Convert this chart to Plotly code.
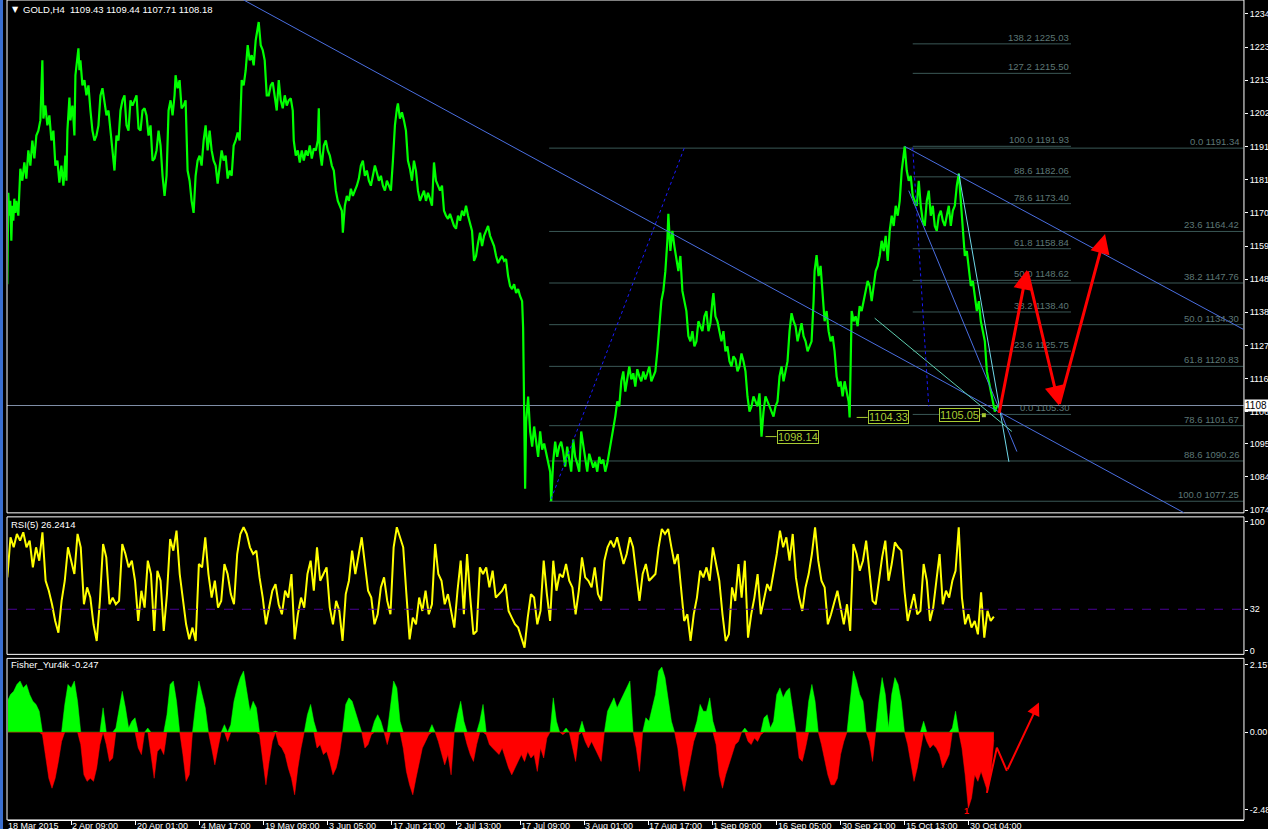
import numpy as np
import plotly.graph_objects as go

W, H = 1268, 829          # reference pixel grid
FIG_W, FIG_H = 1275, 834  # rendered figure size (page is downscaled to 1268x829)
FONT = "Liberation Sans"

# ---------------- data ----------------
price_bar = [0,1,2,3,4,5,6,7,8,9,11,12,13,15,17,19,21,23,25,27,29,31,33,35,36,38,40,42,44,46,48,50,52,54,56,58,59,60,62,63,65,66,67,68,69,71,72,73,75,77,79,81,83,85,87,89,91,93,95,97,99,101,103,105,107,109,111,113,115,117,119,121,123,125,127,129,131,133,135,137,139,141,143,145,147,149,151,153,155,157,159,161,163,165,167,168,170,172,174,176,178,180,182,184,186,188,190,192,194,196,198,200,202,204,206,208,210,212,214,216,218,220,222,224,226,228,230,232,234,236,238,240,242,244,246,248,250,251,253,255,257,259,261,263,265,267,269,271,273,275,277,279,281,283,285,286,288,290,292,294,296,298,300,302,304,306,308,310,311,312,314,316,318,320,322,324,326,328,330,332,334,335,337,339,341,343,345,347,349,351,353,355,357,359,361,363,365,367,369,371,373,375,377,379,381,383,385,387,389,390,392,394,396,398,400,402,404,406,408,410,412,414,416,418,420,422,424,426,428,430,432,434,436,438,440,442,444,446,448,450,452,454,456,458,460,462,464,466,468,470,472,474,476,478,480,482,484,486,488,490,492,494,496,498,500,502,504,506,508,510,512,514,515,516,517,518,520,522,524,526,528,530,532,534,536,538,540,542,543,545,547,549,551,553,555,557,559,561,563,565,567,569,571,573,575,577,579,581,583,585,587,589,591,593,595,597,599,601,603,605,607,609,611,613,615,617,619,621,623,625,627,629,631,633,635,637,639,641,643,645,647,649,651,653,655,657,659,660,662,664,666,668,670,672,674,676,678,680,682,684,686,688,690,692,694,696,698,700,702,704,705,707,709,711,713,715,717,719,721,723,725,727,729,731,733,735,737,739,741,743,745,747,749,751,753,755,757,759,761,763,765,767,769,771,773,775,777,779,781,783,785,787,789,791,793,795,797,799,801,803,805,806,808,810,812,814,816,818,820,822,824,826,828,830,832,834,836,838,840,841,842,843,845,847,849,851,853,855,857,859,861,863,865,867,869,871,873,875,877,879,881,883,885,887,889,891,893,895,896,898,900,902,904,906,908,910,912,914,916,918,920,922,924,926,928,930,932,934,936,938,940,942,944,946,948,950,952,954,956,958,960,962,964,966,968,970,972,974,976,978,980,982,984,986,988,990]
price_close = [1147.4,1176.9,1169.5,1174.3,1161.4,1172.7,1167.9,1175.0,1170.4,1174.3,1169.5,1175.9,1184.7,1180.8,1186.7,1181.5,1190.6,1185.7,1193.8,1188.0,1195.4,1197.0,1200.3,1219.7,1200.9,1205.1,1198.7,1201.9,1193.8,1197.0,1185.7,1187.3,1180.2,1185.7,1179.2,1188.9,1180.8,1197.0,1207.7,1200.3,1205.1,1200.9,1195.4,1214.9,1218.1,1223.6,1216.5,1219.7,1211.6,1213.3,1208.4,1211.6,1203.5,1197.0,1193.8,1195.4,1198.7,1208.4,1210.7,1206.8,1201.9,1203.5,1197.0,1192.2,1184.1,1195.4,1193.8,1203.5,1206.8,1208.4,1198.7,1197.0,1206.8,1205.1,1206.8,1208.4,1197.7,1197.0,1203.5,1204.2,1201.9,1195.4,1198.7,1187.3,1188.0,1190.6,1197.0,1192.2,1182.4,1175.9,1182.4,1203.5,1206.8,1201.9,1208.4,1214.9,1210.7,1213.3,1204.2,1205.1,1206.8,1184.1,1180.8,1174.3,1170.4,1182.4,1187.3,1188.9,1185.7,1193.8,1198.7,1190.6,1197.0,1190.6,1187.3,1185.7,1179.9,1185.7,1190.6,1187.3,1188.9,1181.5,1184.1,1182.4,1192.2,1193.8,1196.4,1193.8,1213.3,1211.6,1216.5,1224.6,1219.7,1221.4,1218.1,1226.2,1229.5,1232.1,1224.6,1223.0,1219.7,1208.4,1208.4,1211.6,1212.6,1208.4,1203.5,1213.3,1206.8,1204.2,1208.4,1205.1,1206.8,1207.4,1203.5,1193.8,1188.9,1190.6,1186.7,1190.6,1187.3,1190.6,1188.9,1192.2,1188.0,1191.2,1190.6,1193.8,1204.2,1190.6,1185.7,1192.2,1193.8,1190.6,1188.9,1185.7,1184.1,1177.6,1174.3,1172.7,1171.1,1164.0,1172.7,1175.9,1174.3,1178.2,1175.9,1177.6,1179.2,1181.5,1185.7,1187.3,1182.4,1184.1,1180.8,1179.2,1182.4,1185.7,1183.4,1180.8,1182.4,1179.2,1177.6,1180.8,1179.2,1177.6,1187.3,1198.7,1204.2,1205.8,1200.9,1202.9,1200.3,1197.0,1187.3,1184.7,1180.8,1187.3,1184.1,1177.6,1174.3,1175.9,1177.6,1174.3,1176.9,1175.0,1172.7,1186.7,1180.8,1179.2,1177.6,1179.2,1171.1,1169.5,1168.5,1170.1,1167.9,1166.2,1165.3,1169.5,1167.9,1171.1,1169.5,1172.7,1169.5,1167.2,1164.6,1154.9,1156.5,1160.7,1164.0,1159.7,1163.0,1164.6,1166.2,1163.0,1161.4,1159.7,1156.5,1154.2,1155.5,1156.5,1154.9,1155.5,1150.0,1146.8,1145.8,1147.4,1144.5,1145.8,1143.5,1141.9,1133.2,1109.5,1081.3,1103.0,1111.1,1099.8,1094.9,1101.4,1096.5,1091.6,1099.8,1093.9,1095.9,1092.6,1090.0,1086.8,1077.3,1090.0,1096.5,1091.6,1094.9,1096.5,1093.3,1088.4,1094.9,1090.0,1086.8,1097.2,1091.6,1089.4,1086.8,1099.8,1094.9,1090.0,1086.8,1092.6,1090.7,1088.1,1090.0,1086.8,1091.6,1089.4,1090.7,1086.8,1089.4,1093.3,1096.5,1099.8,1104.6,1109.5,1107.9,1116.0,1119.2,1112.7,1117.6,1120.8,1116.6,1118.6,1114.3,1119.9,1117.6,1116.0,1119.2,1116.6,1118.6,1120.8,1116.0,1117.6,1119.2,1125.7,1135.4,1141.9,1145.2,1151.6,1161.4,1170.1,1158.1,1164.6,1159.7,1154.9,1151.6,1156.5,1145.2,1141.9,1138.7,1130.6,1128.9,1132.2,1127.3,1128.9,1135.4,1133.8,1132.2,1137.0,1138.7,1132.2,1134.8,1141.9,1144.5,1137.0,1135.4,1132.2,1128.9,1132.2,1125.7,1127.3,1122.5,1120.8,1124.1,1123.1,1119.2,1120.8,1125.0,1122.5,1119.2,1111.1,1106.2,1107.9,1111.1,1109.5,1107.9,1112.1,1098.1,1106.2,1111.1,1109.5,1107.9,1106.2,1104.6,1107.9,1109.5,1117.6,1120.8,1116.0,1119.2,1122.5,1132.2,1138.0,1135.4,1133.8,1128.9,1132.2,1134.8,1130.6,1128.9,1125.7,1127.3,1128.9,1141.9,1151.6,1156.8,1150.0,1153.3,1145.2,1135.4,1138.7,1132.2,1128.9,1130.6,1125.7,1117.6,1114.3,1116.0,1111.1,1116.0,1112.7,1109.5,1104.3,1127.3,1138.7,1135.4,1137.0,1133.8,1140.3,1138.7,1141.9,1145.2,1148.4,1146.8,1141.9,1146.8,1151.6,1153.3,1156.5,1161.4,1158.1,1163.0,1154.9,1164.6,1169.5,1166.2,1172.7,1169.5,1174.3,1184.1,1190.6,1191.9,1184.1,1180.8,1182.4,1175.9,1174.3,1172.7,1180.8,1172.7,1167.9,1166.2,1174.3,1177.6,1169.5,1172.7,1166.2,1164.6,1169.5,1171.1,1167.9,1166.2,1169.5,1172.7,1166.2,1171.1,1172.7,1179.2,1183.1,1174.3,1164.6,1156.5,1158.1,1151.6,1146.8,1148.4,1143.5,1138.7,1141.9,1135.4,1132.2,1128.9,1119.2,1116.0,1112.7,1110.1,1106.2,1107.9,1108.2]

rsi_values = [56.8,88.0,80.2,90.6,85.4,91.9,80.2,85.4,64.6,80.2,69.8,91.9,54.2,46.4,35.9,22.9,13.8,38.5,54.2,80.2,
69.8,59.4,90.6,80.2,35.9,49.0,41.1,20.3,7.3,38.5,82.8,72.4,35.9,41.1,35.9,38.5,82.8,75.0,64.6,69.8,
54.2,22.9,46.4,33.3,69.8,59.4,15.1,62.0,54.2,15.1,43.8,86.7,77.6,93.2,59.4,38.5,20.3,8.6,17.7,7.3,
67.2,64.6,88.0,59.4,41.1,54.2,33.3,38.5,67.2,59.4,43.8,35.9,75.0,90.6,95.8,90.6,80.2,75.0,77.6,56.8,
41.1,20.3,33.3,46.4,51.6,35.9,28.1,46.4,41.1,59.4,8.6,28.1,41.1,33.3,59.4,69.8,46.4,80.2,54.2,59.4,
64.6,33.3,20.3,38.5,30.7,7.3,43.8,54.2,77.6,59.4,72.4,88.0,67.2,46.4,41.1,20.3,28.1,49.0,56.8,38.5,
28.1,80.2,95.8,88.0,80.2,43.8,8.6,25.5,20.3,41.1,30.7,46.4,28.1,35.9,82.8,59.4,54.2,35.9,43.8,30.7,
17.7,46.4,69.8,28.1,75.0,41.1,12.5,15.1,64.6,59.4,64.6,49.0,62.0,41.1,43.8,46.4,51.6,30.7,25.5,20.3,
17.7,9.9,2.1,25.5,43.8,41.1,20.3,30.7,69.8,43.8,22.9,69.8,46.4,59.4,56.8,67.2,54.2,49.0,28.1,46.4,
72.4,56.8,54.2,49.0,64.6,43.8,38.5,69.8,80.2,85.4,80.2,88.0,77.6,67.2,75.0,88.0,80.2,56.8,38.5,59.4,
67.2,54.2,56.8,59.4,80.2,94.5,90.6,94.5,80.2,67.2,75.0,46.4,22.9,28.1,7.3,28.1,41.1,62.0,56.8,64.6,
54.2,80.2,67.2,54.2,28.1,7.3,12.5,49.0,38.5,67.2,41.1,69.8,9.9,28.1,41.1,59.4,28.1,41.1,51.6,46.4,
59.4,75.0,93.2,80.2,88.0,69.8,90.6,56.8,41.1,30.7,49.0,59.4,75.0,95.8,69.8,54.2,49.0,20.3,28.1,38.5,
46.4,33.3,20.3,35.9,15.1,82.8,75.0,62.0,69.8,85.4,59.4,38.5,35.9,54.2,72.4,85.4,54.2,67.2,84.1,80.2,
77.6,46.4,22.9,33.3,43.8,28.1,30.7,67.2,54.2,22.9,33.3,54.2,75.0,35.9,46.4,41.1,54.2,62.0,95.8,41.1,
20.3,28.1,17.7,22.9,12.5,45.1,9.9,30.7,22.9,26.2]

fisher_values = [0.99,1.21,1.31,1.53,1.64,1.42,1.53,1.21,0.99,0.89,0.67,-0.08,-0.72,-1.48,-1.80,-1.48,-0.94,-0.30,0.89,1.53,
1.42,1.64,0.99,-0.40,-1.37,-1.58,-1.48,-1.58,-1.15,-0.40,0.78,-0.40,-0.94,-0.83,0.13,0.78,1.31,0.78,0.13,0.35,
0.46,-0.51,-0.72,0.0,0.13,-0.72,-1.48,-0.62,-0.51,-0.72,0.56,1.53,1.64,0.99,0.0,-0.72,-1.58,-1.37,0.0,0.89,
1.64,1.21,0.78,0.0,-0.51,-1.05,-0.51,0.0,0.24,-0.30,0.24,0.99,1.42,1.75,1.96,1.31,0.67,0.99,0.78,-0.08,
-0.83,-1.69,-0.94,-0.30,0.03,-0.40,-0.51,-0.72,-1.15,-1.48,-2.01,-1.15,-0.51,0.0,0.56,0.89,0.35,-0.51,-0.40,-0.72,
-0.62,-0.94,-1.37,-1.15,-0.72,0.0,0.89,1.10,0.99,0.67,0.35,0.0,-0.51,-0.40,-0.08,0.35,0.56,0.35,0.0,-0.40,
0.78,1.64,1.42,0.35,-0.51,-1.26,-1.69,-2.01,-1.48,-0.94,-0.51,-0.30,-0.08,0.24,0.0,-0.30,-0.72,-1.05,-0.72,-1.37,
0.0,0.56,0.99,0.35,-0.40,-0.72,-0.94,-0.40,0.35,0.89,-0.08,-0.40,-0.51,-0.62,-0.72,-0.51,-0.83,-1.15,-1.37,-1.15,
-0.94,-0.72,-0.94,-0.62,-0.83,-0.72,-1.26,-0.51,-0.83,-0.19,0.0,1.10,0.35,0.0,-0.08,0.13,0.0,-0.51,-0.94,-0.08,
0.35,-0.30,-0.51,-0.30,-0.51,-0.72,-0.94,0.0,0.67,0.89,1.10,0.78,0.99,1.21,1.42,1.64,0.0,-0.51,-1.26,0.0,
0.46,0.35,0.78,1.21,1.96,2.09,1.75,0.99,0.35,0.0,-0.51,-1.37,-1.90,-1.37,-0.72,-0.30,0.35,0.89,0.67,0.67,
1.10,0.35,-0.40,-1.37,-1.80,-1.37,-1.05,-0.72,-0.40,-0.30,0.0,0.13,-0.30,-0.40,-0.19,-0.30,-0.08,0.46,0.56,0.13,
0.35,1.21,1.42,1.10,1.31,1.42,0.78,0.0,-0.83,-0.94,-0.51,0.99,1.53,0.99,0.0,-0.40,-0.94,-1.37,-1.69,-1.69,
-1.48,-0.72,-0.30,0.0,0.99,1.96,1.64,1.21,0.99,0.0,-0.30,-0.94,0.0,0.99,1.75,1.21,0.13,1.21,1.75,1.53,
0.99,0.0,-0.40,-1.05,-1.58,-1.15,-0.51,0.35,-0.30,-0.51,-0.40,-0.51,-0.72,-1.15,-0.94,-0.72,0.13,0.67,0.0,-0.51,
-1.37,-2.44,-2.12,-1.37,-1.58,-1.26,-1.58,-1.90,-1.37,-0.25]

date_labels = ["18 Mar 2015", "2 Apr 09:00", "20 Apr 01:00", "4 May 17:00", "19 May 09:00",
               "3 Jun 05:00", "17 Jun 21:00", "2 Jul 13:00", "17 Jul 09:00", "3 Aug 01:00",
               "17 Aug 17:00", "1 Sep 09:00", "16 Sep 05:00", "30 Sep 21:00", "15 Oct 13:00",
               "30 Oct 04:00"]
bars_per_label = 64

price_tick_vals = [1234.7, 1224.0, 1213.3, 1202.6, 1191.9, 1181.2, 1170.4, 1159.7, 1149.0,
                   1138.3, 1127.6, 1116.9, 1106.2, 1095.9, 1085.2, 1074.4]
price_tick_text = ["1234", "1223", "1213", "1202", "1191", "1181", "1170", "1159", "1148",
                   "1138", "1127", "1116", "1106", "1095", "1084", "1074"]

# Fibonacci set A (1191.93 -> 1105.30)
fibA_pct = ["138.2", "127.2", "100.0", "88.6", "78.6", "61.8", "50.0", "38.2", "23.6", "0.0"]
fibA_price = [1225.03, 1215.50, 1191.93, 1182.06, 1173.40, 1158.84, 1148.62, 1138.40, 1125.75, 1105.30]
fibA_span = [904, 1062]
# Fibonacci set B (1191.34 -> 1077.25)
fibB_pct = ["0.0", "23.6", "38.2", "50.0", "61.8", "78.6", "88.6", "100.0"]
fibB_price = [1191.34, 1164.42, 1147.76, 1134.30, 1120.83, 1101.67, 1090.26, 1077.25]
fibB_span = [541, 1234]

last_price = 1108.18
header = "GOLD,H4  1109.43 1109.44 1107.71 1108.18"

# trend lines: (bar0, price0, bar1, price1, color, dash)
trend_lines = [
    (236, 1239.2, 1175, 1073.5, "#4a6ee0", "solid"),
    (896, 1191.9, 1234, 1132.8, "#4a6ee0", "solid"),
    (900, 1177.6, 1008, 1093.3, "#4a6ee0", "solid"),
    (950, 1183.1, 1000, 1090.0, "#6fd8e8", "solid"),
    (866, 1136.4, 1003, 1099.8, "#5fcfb0", "solid"),
    (543, 1078.0, 676, 1191.5, "#1a1aff", "dot"),
    (904, 1191.5, 920, 1107.9, "#1a1aff", "dot"),
]

# price label objects (bar of box left edge, price)
price_marks = [(768, 1098.14), (859, 1104.33), (930, 1105.05)]

# red forecast arrows on price panel
arrow_bar = [990, 1018, 1050, 1096]
arrow_price = [1105.3, 1152.0, 1108.2, 1163.6]
# red forecast arrow on Fisher panel
f_arrow_bar = [978, 988, 998, 1030]
f_arrow_val = [-1.95, -0.50, -1.24, 0.95]

# ---------------- geometry helpers ----------------
def px(p):
    return p / W

def py(q):
    return 1 - q / H

MAIN = (0, 511)
RSI = (515, 652)
FISH = (656, 817)
XL, XR = 8, 1242
XRANGE = [0.7, 1234.7]

def bar_to_paper(b):
    return px(XL) + (b - XRANGE[0]) / (XRANGE[1] - XRANGE[0]) * (px(XR) - px(XL))

fig = go.Figure()

fig.add_trace(go.Scatter(x=price_bar, y=price_close, mode="lines",
                         line=dict(color="#00ff00", width=2.2), xaxis="x", yaxis="y",
                         hoverinfo="skip", showlegend=False))

rsi_x = np.linspace(0, 985, len(rsi_values))
fig.add_trace(go.Scatter(x=rsi_x, y=rsi_values, mode="lines",
                         line=dict(color="#ffff00", width=2), xaxis="x", yaxis="y2",
                         hoverinfo="skip", showlegend=False))

fish_x = np.linspace(0, 985, len(fisher_values))
fv = np.array(fisher_values)
fig.add_trace(go.Scatter(x=fish_x, y=np.maximum(fv, 0), mode="lines", fill="tozeroy",
                         fillcolor="#00ff00", line=dict(color="#00ff00", width=0.5),
                         xaxis="x", yaxis="y3", hoverinfo="skip", showlegend=False))
fig.add_trace(go.Scatter(x=fish_x, y=np.minimum(fv, 0), mode="lines", fill="tozeroy",
                         fillcolor="#ff0000", line=dict(color="#ff0000", width=0.5),
                         xaxis="x", yaxis="y3", hoverinfo="skip", showlegend=False))

fig.add_trace(go.Scatter(x=f_arrow_bar[:3], y=f_arrow_val[:3], mode="lines",
                         line=dict(color="#ff0000", width=2), xaxis="x", yaxis="y3",
                         hoverinfo="skip", showlegend=False))

shapes = []
ann = []

# left blue window strip
shapes.append(dict(type="rect", xref="paper", yref="paper", x0=0, x1=px(3), y0=0, y1=1,
                   fillcolor="#3a6fd0", line=dict(width=0), layer="above"))
# panel frames
for top, bot in (MAIN, RSI, FISH):
    shapes.append(dict(type="rect", xref="paper", yref="paper", x0=px(7), x1=px(XR),
                       y0=py(bot), y1=py(top), line=dict(color="#ffffff", width=1),
                       fillcolor="rgba(0,0,0,0)", layer="above"))

# fibonacci
FIB_LINE = "#3a5856"
FIB_TXT = "#5d7776"
for pct, pr in zip(fibB_pct, fibB_price):
    shapes.append(dict(type="line", xref="x", yref="y", x0=fibB_span[0], x1=fibB_span[1],
                       y0=pr, y1=pr, line=dict(color=FIB_LINE, width=1), layer="below"))
    ann.append(dict(xref="x", yref="y", x=fibB_span[1] - 2, y=pr, text=f"{pct} {pr:.2f}",
                    xanchor="right", yanchor="bottom", showarrow=False, yshift=-1,
                    font=dict(family=FONT, size=9.5, color=FIB_TXT)))
for pct, pr in zip(fibA_pct, fibA_price):
    shapes.append(dict(type="line", xref="x", yref="y", x0=fibA_span[0], x1=fibA_span[1],
                       y0=pr, y1=pr, line=dict(color=FIB_LINE, width=1), layer="below"))
    ann.append(dict(xref="x", yref="y", x=fibA_span[1], y=pr, text=f"{pct} {pr:.2f}",
                    xanchor="right", yanchor="bottom", showarrow=False, yshift=-1,
                    font=dict(family=FONT, size=9.5, color=FIB_TXT)))

# current price line
shapes.append(dict(type="line", xref="paper", yref="y", x0=px(7), x1=px(XR), y0=last_price,
                   y1=last_price, line=dict(color="#7f8ea6", width=1), layer="below"))

# trend lines
for b0, p0, b1, p1, col, dash in trend_lines:
    shapes.append(dict(type="line", xref="x", yref="y", x0=b0, y0=p0, x1=b1, y1=p1,
                       line=dict(color=col, width=1, dash=dash), layer="above"))

# RSI level 32
shapes.append(dict(type="line", xref="paper", yref="y2", x0=px(XL), x1=px(XR), y0=32, y1=32,
                   line=dict(color="#4b0096", width=1, dash="dash"), layer="above"))

# price marks
YG = "#a8cc32"
for i, (b, pr) in enumerate(price_marks):
    if i < 2:
        shapes.append(dict(type="line", xref="x", yref="y", x0=b - 11, x1=b, y0=pr, y1=pr,
                           line=dict(color=YG, width=1), layer="above"))
    ann.append(dict(xref="x", yref="y", x=b, y=pr, text=f"{pr:.2f}", xanchor="left",
                    yanchor="middle", showarrow=False, bgcolor="#000000", bordercolor=YG,
                    borderwidth=1, borderpad=0,
                    font=dict(family=FONT, size=11, color=YG)))
fig.add_trace(go.Scatter(x=[price_marks[2][0] + 45], y=[price_marks[2][1]], mode="markers",
                         marker=dict(symbol="square", size=4, color=YG), xaxis="x", yaxis="y",
                         hoverinfo="skip", showlegend=False))

# red arrows on price panel
for i in range(len(arrow_bar) - 1):
    ann.append(dict(xref="x", yref="y", axref="x", ayref="y", x=arrow_bar[i + 1],
                    y=arrow_price[i + 1], ax=arrow_bar[i], ay=arrow_price[i], text="",
                    showarrow=True, arrowhead=2, arrowsize=1.3, arrowwidth=3,
                    arrowcolor="#ff0000"))
# red arrow on fisher panel
ann.append(dict(xref="x", yref="y3", axref="x", ayref="y3", x=f_arrow_bar[3], y=f_arrow_val[3],
                ax=f_arrow_bar[2], ay=f_arrow_val[2], text="", showarrow=True, arrowhead=2,
                arrowsize=1.3, arrowwidth=2, arrowcolor="#ff0000"))

# header & titles
ann.append(dict(xref="paper", yref="paper", x=px(10), y=py(9), text="▼", xanchor="left",
                yanchor="middle", showarrow=False,
                font=dict(family="DejaVu Sans", size=8, color="#ffffff")))
ann.append(dict(xref="paper", yref="paper", x=px(21), y=py(9), text=header, xanchor="left",
                yanchor="middle", showarrow=False,
                font=dict(family=FONT, size=9.5, color="#ffffff")))
ann.append(dict(xref="paper", yref="paper", x=px(9), y=py(523), text="RSI(5) 26.2414",
                xanchor="left", yanchor="middle", showarrow=False,
                font=dict(family=FONT, size=9.5, color="#ffffff")))
ann.append(dict(xref="paper", yref="paper", x=px(9), y=py(662), text="Fisher_Yur4ik -0.247",
                xanchor="left", yanchor="middle", showarrow=False,
                font=dict(family=FONT, size=9.5, color="#ffffff")))
ann.append(dict(xref="x", yref="y3", x=958, y=-2.53, text="<b>1</b>", xanchor="center",
                yanchor="middle", showarrow=False,
                font=dict(family=FONT, size=9, color="#ff0000")))

# current price box on axis
ann.append(dict(xref="paper", yref="y", x=px(XR), y=last_price, text="1108", xanchor="left",
                yanchor="middle", showarrow=False, bgcolor="#ffffff", borderpad=0,
                width=24, align="left",
                font=dict(family=FONT, size=10, color="#000000")))

# x tick labels (left aligned after tick, MT4 style)
tick_bars = [i * bars_per_label for i in range(len(date_labels))]
for b, lab in zip(tick_bars, date_labels):
    ann.append(dict(xref="paper", yref="paper", x=bar_to_paper(b), y=py(823), text=lab,
                    xanchor="left", yanchor="middle", showarrow=False, xshift=-1,
                    font=dict(family=FONT, size=9, color="#ffffff")))

axis_font = dict(family=FONT, size=9, color="#ffffff")
common_y = dict(side="right", showgrid=False, zeroline=False, showline=False, ticks="outside",
                ticklen=3, tickcolor="#ffffff", tickfont=axis_font, anchor="x", fixedrange=True)

fig.update_layout(
    width=FIG_W, height=FIG_H, margin=dict(l=0, r=0, t=0, b=0),
    paper_bgcolor="#000000", plot_bgcolor="#000000", showlegend=False,
    xaxis=dict(domain=[px(XL), px(XR)], range=XRANGE, anchor="y3", showgrid=False,
               zeroline=False, showline=True, linecolor="#ffffff", ticks="outside",
               ticklen=4, tickcolor="#ffffff", tickvals=tick_bars, showticklabels=False,
               fixedrange=True),
    yaxis=dict(domain=[py(MAIN[1]), py(MAIN[0])], range=[1073.5, 1239.2],
               tickvals=price_tick_vals, ticktext=price_tick_text, **common_y),
    yaxis2=dict(domain=[py(RSI[1]), py(RSI[0])], range=[-3.1, 103.9],
                tickvals=[100, 32, 0], ticktext=["100", "32", "0"], **common_y),
    yaxis3=dict(domain=[py(FISH[1]), py(FISH[0])], range=[-2.818, 2.367],
                tickvals=[2.157, 0, -2.485], ticktext=["2.157", "0.00", "-2.485"], **common_y),
    shapes=shapes, annotations=ann,
)

post = (
    "document.documentElement.style.margin='0';"
    "document.documentElement.style.padding='0';"
    "document.documentElement.style.overflow='hidden';"
    "document.documentElement.style.background='#000';"
    "document.body.style.margin='0';"
    "document.body.style.padding='0';"
    "document.body.style.overflow='hidden';"
    "document.body.style.background='#000';"
)
fig.write_html("out.html", config={"displayModeBar": False}, post_script=post)
